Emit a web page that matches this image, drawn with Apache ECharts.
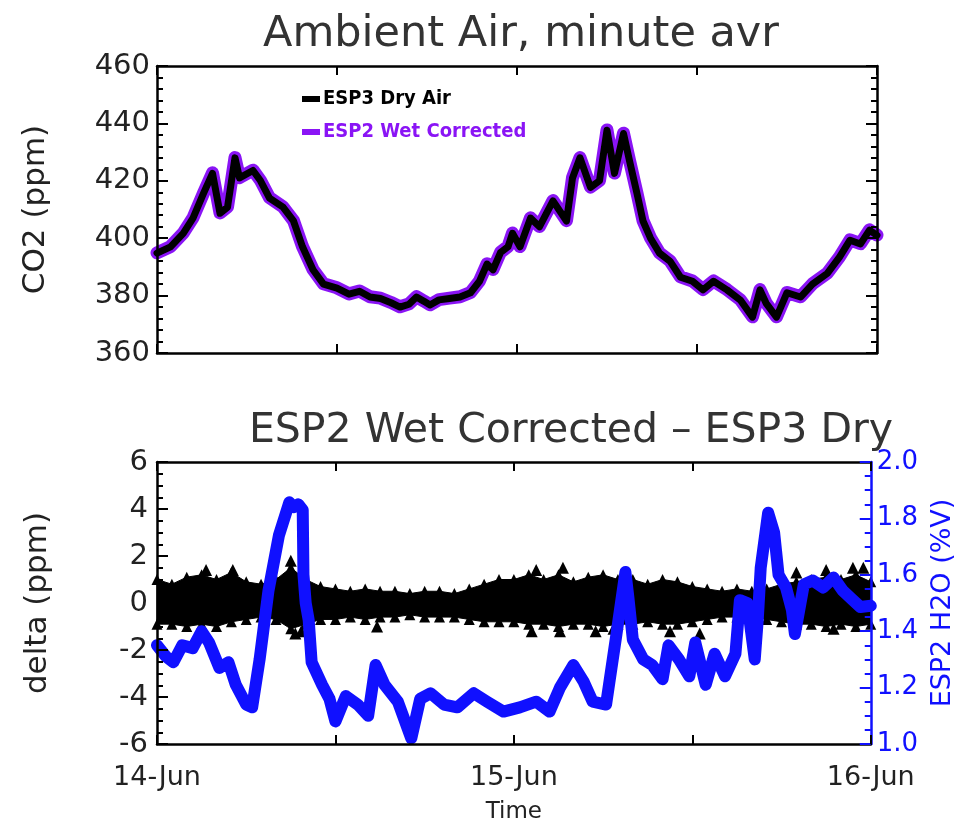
<!DOCTYPE html>
<html>
<head>
<meta charset="utf-8">
<script src="https://cdn.jsdelivr.net/npm/echarts@6/dist/echarts.min.js"></script>
<style>html,body{margin:0;padding:0;background:#fff;}#c{width:964px;height:825px;}</style>
</head>
<body>
<div id="c"></div>
<script>
// ---- Data (hours since 14-Jun 00:00) ----
var xTickLabels = ['14-Jun', '', '15-Jun', '', '16-Jun'];

var co2Hours = [0,0.9,1.75,2.4,3.1,3.7,4.2,4.7,5.2,5.5,6.4,6.9,7.5,8.4,9.1,9.7,10.4,11.1,12,12.8,13.5,14.2,14.9,15.6,16.2,16.8,17.3,17.8,18.2,18.8,19.5,20.2,20.9,21.5,22.0,22.4,22.9,23.4,23.7,24.2,24.9,25.5,26.4,27.3,27.7,28.2,28.9,29.5,30,30.5,31.1,31.5,32,32.4,32.9,33.5,34.2,34.9,35.7,36.4,37.1,38,38.9,39.7,40.2,40.6,41.3,42,42.9,43.7,44.7,45.5,46.2,46.9,47.5,48];
var co2Esp3Dry = [394.8,397,401.7,407,415.6,422.6,408.7,410.8,428,421,423.6,420,414,410.8,406,397,389,384,382.6,380.5,381.5,379.5,379,377.5,376,377,379.5,378,376.7,378.5,379,379.5,381,385,391,389,395,397,401.7,397,407,404,413,406,421,428,417.7,420,437.6,422.6,436.5,427,415.6,406,400,394.8,392,386.4,385,382,385,382,378.4,372.5,382,377.4,372.5,381,379.5,384,387.8,393.4,399.3,398,402.8,401];
var co2Esp2Wet = [394.9,397.1,401.8,407.1,415.7,422.8,408.8,410.9,428.1,421.1,423.7,420.1,414.1,410.9,406.1,397.1,389.1,384.1,382.7,380.6,381.6,379.6,379.1,377.6,376.1,377.1,379.6,378.1,376.8,378.6,379.1,379.6,381.1,385.1,391.1,389.1,395.1,397.1,401.8,397.1,407.1,404.1,413.1,406.1,421.1,428.1,417.8,420.1,437.7,422.7,436.6,427.1,415.7,406.1,400.1,394.9,392.1,386.5,385.1,382.1,385.1,382.1,378.5,372.6,382.1,377.5,372.6,381.1,379.6,384.1,387.9,393.5,399.4,398.1,402.9,401.1];

var deltaHours = [0,1,2,3,4,5,6,7,8,9,10,11,12,13,14,15,16,17,18,19,20,21,22,23,24,25,26,27,28,29,30,31,32,33,34,35,36,37,38,39,40,41,42,43,44,45,46,47,48];
var deltaUpper = [1.0,0.8,1.1,1.2,1.0,1.3,0.9,0.8,1.0,1.5,1.0,0.7,0.6,0.5,0.6,0.5,0.5,0.4,0.5,0.5,0.4,0.6,0.8,1.0,1.0,1.2,1.0,1.2,0.9,1.1,1.2,1.0,1.0,0.8,1.0,0.9,0.7,0.6,0.5,0.6,0.5,0.6,0.8,0.9,1.0,1.1,1.0,1.2,0.9];
var deltaLower = [-0.9,-0.9,-1.0,-0.9,-1.0,-0.8,-0.7,-0.6,-0.7,-1.1,-0.9,-0.7,-0.7,-0.6,-0.7,-0.6,-0.6,-0.5,-0.6,-0.6,-0.6,-0.7,-0.8,-0.8,-0.8,-0.9,-0.9,-1.0,-0.9,-0.9,-1.0,-0.9,-0.9,-0.8,-0.9,-0.9,-0.8,-0.7,-0.6,-0.6,-0.6,-0.7,-0.8,-0.9,-0.9,-1.0,-0.9,-1.0,-0.9];
var spikeHours = [3.3,5.1,9.0,9.3,9.7,14.8,25.2,25.5,27.1,27.3,29.5,30.7,34.5,36.5,43.0,45.0,45.5,46.8,47.5];
var spikeDelta = [1.4,1.4,1.8,-1.3,-1.2,-1.0,-1.2,1.4,-1.2,1.5,-1.2,-1.1,-1.2,-1.3,1.3,1.4,-1.1,1.5,1.5];

var h2oHours = [0,0.6,1.1,1.7,2.4,3.0,3.5,4.2,4.8,5.3,6.0,6.4,6.9,7.5,8.2,8.9,9.2,9.5,9.8,9.85,10.0,10.2,10.4,11.1,11.6,12.0,12.7,13.5,14.2,14.7,15.3,16.2,17.1,17.7,18.4,19.3,20.2,21.3,22.2,23.3,24.4,25.5,26.4,27.1,28.0,28.7,29.3,30.2,30.9,31.5,31.7,32.0,32.7,33.3,34.0,34.4,35.1,35.8,36.2,36.9,37.5,38.2,38.9,39.2,39.7,40.2,40.4,40.6,41.1,41.5,41.7,41.8,42.3,42.7,42.9,43.5,44.1,44.8,45.5,46.1,46.8,47.3,48];
var h2oEsp2 = [1.35,1.31,1.29,1.35,1.34,1.40,1.36,1.27,1.29,1.21,1.14,1.13,1.30,1.545,1.74,1.857,1.84,1.85,1.83,1.60,1.50,1.44,1.29,1.21,1.16,1.08,1.17,1.14,1.10,1.28,1.21,1.15,1.02,1.16,1.18,1.14,1.13,1.18,1.15,1.115,1.13,1.15,1.115,1.20,1.28,1.22,1.15,1.14,1.39,1.61,1.52,1.37,1.30,1.28,1.23,1.35,1.30,1.24,1.36,1.21,1.32,1.24,1.32,1.51,1.50,1.30,1.44,1.625,1.82,1.75,1.65,1.60,1.555,1.475,1.39,1.566,1.58,1.555,1.59,1.545,1.51,1.486,1.49];

// ---- Build ----
function pairs(xs, ys) { return xs.map(function (x, i) { return [x, ys[i]]; }); }
var FONT = 'DejaVu Sans';
var TXT = '#222';
var PURPLE = '#8a14f5';
var BLUE = '#1010ff';

function xAxisDef(gridIndex, position, showLabels) {
  return {
    type: 'value', gridIndex: gridIndex, position: position, min: 0, max: 48, interval: 12, z: 10,
    axisLine: { show: true, onZero: false, lineStyle: { color: '#000', width: 2.5 } },
    axisTick: { show: true, inside: true, length: 9, lineStyle: { color: '#000', width: 2 } },
    axisLabel: showLabels ? {
      show: true, margin: 20, fontFamily: FONT, fontSize: 27, color: TXT,
      formatter: function (v) { return xTickLabels[Math.round(v / 12)] || ''; }
    } : { show: false },
    splitLine: { show: false }
  };
}
function yAxisDef(gridIndex, position, min, max, interval, minorSplit, color) {
  return {
    type: 'value', gridIndex: gridIndex, position: position, min: min, max: max, interval: interval, z: 10,
    axisLine: { show: true, onZero: false, lineStyle: { color: color, width: 2.5 } },
    axisTick: { show: true, inside: true, length: 11, lineStyle: { color: color, width: 2 } },
    minorTick: { show: true, splitNumber: minorSplit, length: 6, lineStyle: { color: color, width: 2 } },
    axisLabel: { show: false },
    splitLine: { show: false }, minorSplitLine: { show: false }
  };
}

var yTop = yAxisDef(0, 'left', 360, 460, 20, 5, '#000');
yTop.name = 'CO2 (ppm)'; yTop.nameLocation = 'middle'; yTop.nameGap = 106; yTop.nameRotate = 90;
yTop.nameTextStyle = { fontFamily: FONT, fontSize: 31, color: TXT };
yTop.axisLabel = { show: true, margin: 7, fontFamily: FONT, fontSize: 29, color: TXT };

var yTopMirror = yAxisDef(0, 'right', 360, 460, 20, 5, '#000');

var yDelta = yAxisDef(1, 'left', -6, 6, 2, 4, '#000');
yDelta.name = 'delta (ppm)'; yDelta.nameLocation = 'middle'; yDelta.nameGap = 104; yDelta.nameRotate = 90;
yDelta.nameTextStyle = { fontFamily: FONT, fontSize: 31, color: TXT };
yDelta.axisLabel = { show: true, margin: 9, fontFamily: FONT, fontSize: 29, color: TXT };

var yH2O = yAxisDef(1, 'right', 1.0, 2.0, 0.2, 4, BLUE);
yH2O.name = 'ESP2 H2O (%V)'; yH2O.nameLocation = 'middle'; yH2O.nameGap = 58; yH2O.nameRotate = 90;
yH2O.nameTextStyle = { fontFamily: FONT, fontSize: 27, color: BLUE };
yH2O.axisLabel = { show: true, margin: 6, fontFamily: FONT, fontSize: 26, color: BLUE,
  formatter: function (v) { return v.toFixed(1); } };

var xBottom = xAxisDef(1, 'bottom', true);
xBottom.name = 'Time'; xBottom.nameLocation = 'middle'; xBottom.nameGap = 57;
xBottom.nameTextStyle = { fontFamily: FONT, fontSize: 23, color: TXT };

// band data: [hour, lower, upper]
var bandData = deltaHours.map(function (h, i) { return [h, deltaLower[i], deltaUpper[i]]; });

var option = {
  animation: false,
  backgroundColor: '#fff',
  title: [
    { text: 'Ambient Air, minute avr', left: 516, textAlign: 'center', top: 8,
      textStyle: { fontFamily: FONT, fontSize: 43, fontWeight: 'normal', color: '#333' } },
    { text: 'ESP2 Wet Corrected – ESP3 Dry', left: 566, textAlign: 'center', top: 406,
      textStyle: { fontFamily: FONT, fontSize: 41, fontWeight: 'normal', color: '#333' } }
  ],
  legend: {
    orient: 'vertical', left: 297, top: 84, itemGap: 13,
    itemWidth: 18, itemHeight: 6, icon: 'rect',
    data: [
      { name: 'ESP3 Dry Air', textStyle: { color: '#000' } },
      { name: 'ESP2 Wet Corrected', textStyle: { color: PURPLE } }
    ],
    textStyle: { fontFamily: "'DejaVu Sans Condensed', 'Liberation Sans', sans-serif", fontWeight: 'bold', fontSize: 20, padding: [0, 0, 0, -2] }
  },
  grid: [
    { left: 157, right: 87, top: 66, height: 287 },
    { left: 157, right: 87, top: 462, height: 288 }
  ],
  xAxis: [
    xAxisDef(0, 'bottom', false),
    xAxisDef(0, 'top', false),
    xBottom,
    xAxisDef(1, 'top', false)
  ],
  yAxis: [yTop, yTopMirror, yDelta, yH2O],
  series: [
    { name: 'ESP2 Wet Corrected', type: 'line', xAxisIndex: 0, yAxisIndex: 0,
      data: pairs(co2Hours, co2Esp2Wet), showSymbol: false, color: PURPLE,
      lineStyle: { color: PURPLE, width: 13, cap: 'round', join: 'round' }, z: 2 },
    { name: 'ESP3 Dry Air', type: 'line', xAxisIndex: 0, yAxisIndex: 0,
      data: pairs(co2Hours, co2Esp3Dry), showSymbol: false, color: '#000',
      lineStyle: { color: '#000', width: 7, cap: 'round', join: 'round' }, z: 3 },
    { type: 'custom', xAxisIndex: 2, yAxisIndex: 2, data: bandData, silent: true, z: 2,
      encode: { x: 0, y: [1, 2] },
      renderItem: function (params, api) {
        if (params.dataIndex !== 0) return null;
        var pts = [];
        for (var i = 0; i < bandData.length; i++) pts.push(api.coord([bandData[i][0], bandData[i][2]]));
        for (var j = bandData.length - 1; j >= 0; j--) pts.push(api.coord([bandData[j][0], bandData[j][1]]));
        return { type: 'polygon', shape: { points: pts }, style: { fill: '#000', stroke: '#000', lineWidth: 1 } };
      }
    },
    { type: 'scatter', xAxisIndex: 2, yAxisIndex: 2, data: pairs(deltaHours, deltaUpper),
      symbol: 'triangle', symbolSize: 11, itemStyle: { color: '#000', opacity: 1 }, silent: true, z: 3 },
    { type: 'scatter', xAxisIndex: 2, yAxisIndex: 2, data: pairs(deltaHours, deltaLower),
      symbol: 'triangle', symbolSize: 11, itemStyle: { color: '#000', opacity: 1 }, silent: true, z: 3 },
    { type: 'scatter', xAxisIndex: 2, yAxisIndex: 2, data: pairs(spikeHours, spikeDelta),
      symbol: 'triangle', symbolSize: 12, itemStyle: { color: '#000', opacity: 1 }, silent: true, z: 3 },
    { type: 'line', xAxisIndex: 2, yAxisIndex: 3, data: pairs(h2oHours, h2oEsp2),
      showSymbol: false, lineStyle: { color: BLUE, width: 12, cap: 'round', join: 'round' }, z: 5 }
  ]
};

var chart = echarts.init(document.getElementById('c'), null, { renderer: 'canvas' });
chart.setOption(option);
</script>
</body>
</html>
